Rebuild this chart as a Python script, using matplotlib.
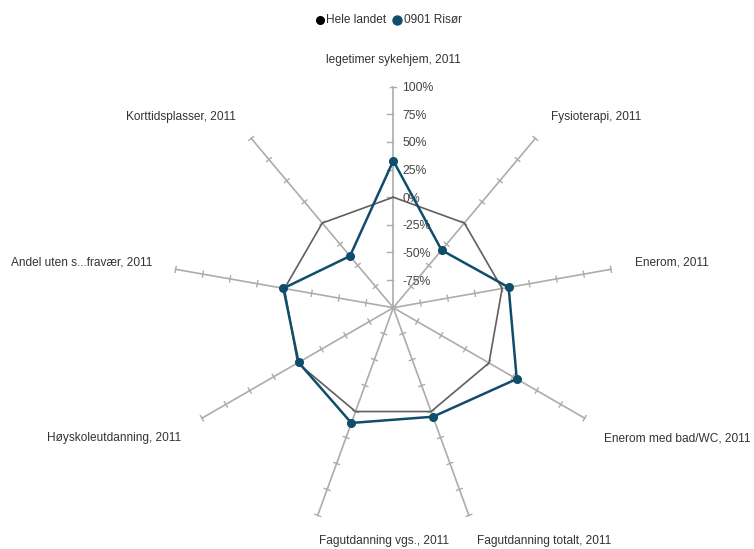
import numpy as np
import matplotlib
matplotlib.use("Agg")
import matplotlib.pyplot as plt

categories = ["legetimer sykehjem, 2011", "Fysioterapi, 2011", "Enerom, 2011",
              "Enerom med bad/WC, 2011", "Fagutdanning totalt, 2011",
              "Fagutdanning vgs., 2011", "Høyskoleutdanning, 2011",
              "Andel uten s...fravær, 2011", "Korttidsplasser, 2011"]
hele_landet = [0, 0, 0, 0, 0, 0, 0, 0, 0]
risor = [33, -32, 6, 29, 5, 11, -1, 1, -39]
tick_values = [-75, -50, -25, 0, 25, 50, 75, 100]
tick_labels = ["-75%", "-50%", "-25%", "0%", "25%", "50%", "75%", "100%"]
series_names = ["Hele landet", "0901 Risør"]

plt.rcParams['font.family'] = ['Liberation Sans', 'DejaVu Sans']

W, H = 754, 549
fig = plt.figure(figsize=(W / 100, H / 100), dpi=100)
ax = fig.add_axes([0, 0, 1, 1])
cx, cy = 393.3, 307.7           # centre in pixels
pix_per_unit = 221.0 / 200.0    # 200 units (from -100% to 100%) = 221 px
ax.set_xlim(-cx / pix_per_unit, (W - cx) / pix_per_unit)
ax.set_ylim(-(H - cy) / pix_per_unit, cy / pix_per_unit)
ax.axis('off')

n = len(categories)
angles = np.deg2rad(np.arange(n) * 360.0 / n)
RMIN, RMAX = -100, 100


def xy(val, ang):
    r = val - RMIN
    return r * np.sin(ang), r * np.cos(ang)


axis_col = '#acacac'
tick_half = 3.0 / pix_per_unit
for i, a in enumerate(angles):
    x0, y0 = xy(RMIN, a)
    x1, y1 = xy(RMAX, a)
    ax.plot([x0, x1], [y0, y1], color=axis_col, lw=1.2, zorder=1)
    px, py = np.cos(a), -np.sin(a)  # perpendicular direction
    for tv in tick_values:
        tx, ty = xy(tv, a)
        if i == 0 and tv != 100:
            ax.plot([tx - 2 * tick_half, tx], [ty, ty], color=axis_col, lw=1.0, zorder=1)
        else:
            ax.plot([tx - px * tick_half, tx + px * tick_half],
                    [ty - py * tick_half, ty + py * tick_half],
                    color=axis_col, lw=1.0, zorder=1)

# tick labels on the top axis
for tv, tl in zip(tick_values, tick_labels):
    tx, ty = xy(tv, angles[0])
    ax.text(tx + 9 / pix_per_unit, ty - 1.5 / pix_per_unit, tl, fontsize=8.8,
            color='#444444', ha='left', va='center', zorder=2)

# series
col_hele = '#5f5f5f'
col_risor = '#0f4d6b'
hx, hy = xy(np.array(hele_landet + hele_landet[:1]), np.append(angles, angles[0]))
ax.plot(hx, hy, color=col_hele, lw=1.2, zorder=3)
rx, ry = xy(np.array(risor + risor[:1]), np.append(angles, angles[0]))
ax.plot(rx, ry, color=col_risor, lw=1.8, zorder=4)
ax.plot(rx[:-1], ry[:-1], 'o', color=col_risor, ms=5.5, zorder=5)

# category labels
aligns = ['center', 'left', 'left', 'left', 'left', 'left', 'right', 'right', 'right']
dy_px = [0, 3, 3, -8, -3, -3, -8, 3, 3]
dx_px = [0, 0, 0, -1, 0, 9, 0, 0, 0]
for i, (lab, a) in enumerate(zip(categories, angles)):
    r = 245 / pix_per_unit
    lx = r * np.sin(a) + dx_px[i] / pix_per_unit
    ly = r * np.cos(a) + dy_px[i] / pix_per_unit
    if i == 0:
        ly = (cy - 60) / pix_per_unit
    ax.text(lx, ly, lab, fontsize=8.6, color='#333333', ha=aligns[i], va='center')

# legend
ly0 = (cy - 20) / pix_per_unit
lx0 = (320 - cx) / pix_per_unit
ax.plot([lx0], [ly0], 'o', color='black', ms=5.5)
ax.text(lx0 + 6.5 / pix_per_unit, ly0, series_names[0], fontsize=8.6, color='#333333',
        ha='left', va='center')
lx1 = (397 - cx) / pix_per_unit
ax.plot([lx1], [ly0], 'o', color=col_risor, ms=6.5)
ax.text(lx1 + 6.5 / pix_per_unit, ly0, series_names[1], fontsize=8.6, color='#333333',
        ha='left', va='center')

fig.savefig('out.png', dpi=100)
